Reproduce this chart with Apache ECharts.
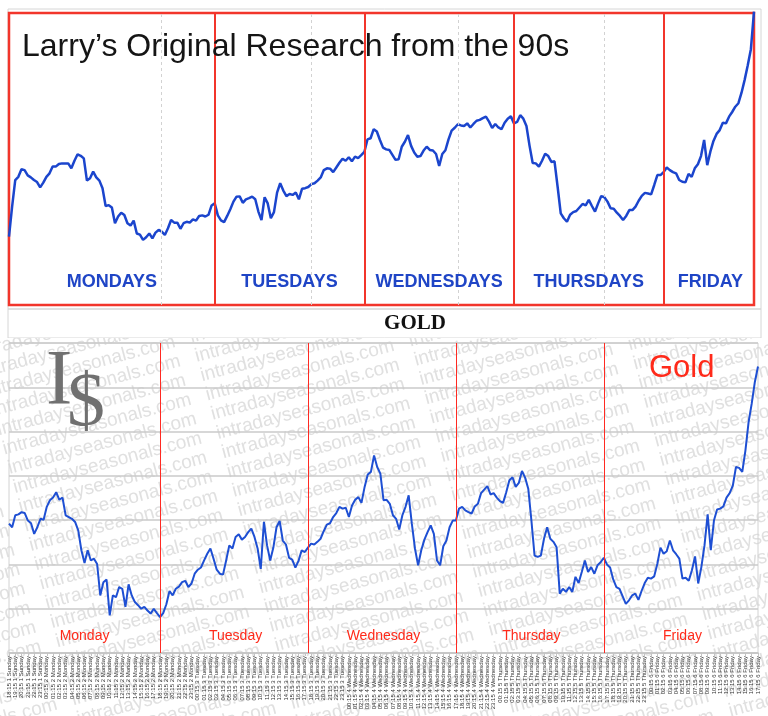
<!DOCTYPE html>
<html><head><meta charset="utf-8">
<script src="https://cdn.jsdelivr.net/npm/echarts@6/dist/echarts.min.js"></script>
<style>
html,body{margin:0;padding:0;background:#fff;width:768px;height:716px;overflow:hidden;}
#top{position:absolute;left:0;top:0;width:768px;height:338px;}
#bottom{position:absolute;left:0;top:338px;width:768px;height:378px;}
</style></head><body>
<div id="top"></div><div id="bottom"></div>
<script>
// ---------------- data ----------------
const topTitle = 'Larry’s Original Research from the 90s';
const topSubtitle = 'GOLD';
const topDayNames = ['MONDAYS', 'TUESDAYS', 'WEDNESDAYS', 'THURSDAYS', 'FRIDAY'];
const topDayBounds = [0, 66, 114, 162, 210, 239];
const topGuideLines = [49, 97, 144, 191];
const topValues = [
23.4,33.7,42.8,43.9,46.5,46.2,44.4,43.7,42.8,42.1,40.3,41.9,43.9,45.1,47.4,47.4,48.3,48.5,48.5,48.5,
46.8,49.4,51.6,51.1,50.2,42.6,43.4,45.7,43.7,42.6,40.0,33.9,34.2,33.4,28.0,30.3,31.6,30.8,28.0,27.2,
28.9,24.5,24.1,22.3,23.2,24.5,22.8,24.8,25.7,25.1,24.0,26.3,29.1,28.2,28.2,26.1,28.0,28.5,28.2,29.3,
28.9,30.5,30.7,30.3,30.9,34.1,34.8,30.7,29.0,28.4,30.5,32.8,35.4,37.1,37.2,35.0,36.2,36.6,37.1,36.2,
32.0,29.1,36.9,34.8,29.7,31.8,38.5,41.7,39.2,37.3,38.0,37.7,38.5,36.2,39.8,40.0,40.4,41.4,41.7,42.6,
43.7,46.2,46.8,46.7,45.5,47.1,48.7,50.1,49.4,50.6,49.2,50.8,50.3,51.3,52.4,56.7,57.1,60.2,59.4,56.5,
53.9,53.3,53.1,51.4,49.7,49.9,54.2,55.9,58.2,54.5,52.2,50.8,51.0,52.9,54.2,53.1,52.9,51.7,47.6,51.7,
53.0,56.7,59.7,60.7,61.9,61.5,61.3,62.2,60.8,62.0,63.1,63.4,64.0,64.5,62.8,60.6,62.0,60.8,60.2,62.4,
63.8,64.6,62.2,62.7,65.0,63.8,61.3,54.5,48.6,48.5,47.4,49.4,51.8,51.0,49.0,49.2,40.5,31.4,29.7,28.5,
30.9,31.8,32.2,33.4,34.6,34.1,36.0,33.9,32.0,34.8,37.3,36.9,35.4,33.1,33.0,31.6,30.5,29.1,30.5,32.5,
32.5,33.7,35.7,37.4,38.4,38.2,37.9,41.1,44.5,44.5,45.5,47.1,46.2,45.5,45.1,42.8,42.2,42.0,44.9,43.9,
46.8,48.2,51.0,56.5,47.9,52.5,56.2,58.6,59.9,62.4,62.2,64.5,66.1,67.9,69.1,72.7,77.1,82.1,87.6,100.5
];

const bottomTitle = 'Gold';
const watermarkText = 'intradayseasonals.com';
const bottomDayNames = ['Monday', 'Tuesday', 'Wednesday', 'Thursday', 'Friday'];
const bottomDayBounds = [0, 48, 95, 142, 189, 238];
const sessionDays = ['1 Sunday', '2 Monday', '3 Tuesday', '4 Wednesday', '5 Thursday', '6 Friday'];
const bottomValues = [
29.2,28.4,31.1,31.3,31.8,31.6,29.9,29.3,26.9,28.4,30.3,30.1,33.0,34.5,35.1,36.3,34.6,35.1,31.1,30.7,
30.3,29.6,27.7,23.2,20.3,23.2,20.9,21.3,20.1,13.0,16.0,16.6,8.5,13.0,12.6,14.9,14.5,10.4,15.5,13.0,
11.5,10.8,10.0,10.4,9.6,8.9,10.0,9.0,8.1,9.0,11.0,14.0,13.0,14.5,15.0,16.0,16.3,14.9,15.7,17.9,
18.8,19.3,20.9,22.4,23.6,21.3,18.8,17.9,17.7,20.9,24.3,23.6,26.2,26.8,25.6,26.2,27.3,28.1,26.2,23.6,
19.0,29.6,24.3,20.9,23.8,28.4,29.8,25.4,24.5,21.5,21.1,19.3,20.8,23.2,22.8,23.8,24.7,24.5,25.1,25.8,
27.5,29.0,29.3,30.7,31.6,33.0,32.6,32.8,30.7,33.3,34.6,35.2,33.9,37.5,40.3,40.9,44.6,42.0,40.5,34.5,
34.6,33.7,31.1,30.3,27.9,31.1,33.0,35.6,29.2,23.6,19.8,23.2,25.6,27.3,28.8,26.9,20.9,19.8,24.1,25.4,
28.4,29.9,29.9,32.6,33.0,32.2,31.8,31.5,33.1,33.7,36.1,36.9,37.7,35.8,36.1,35.1,34.3,33.9,36.3,39.0,
39.7,37.5,38.4,41.1,39.6,37.1,29.9,22.0,21.7,22.0,25.8,28.4,25.8,25.1,23.9,13.4,14.5,13.8,14.9,13.8,
17.2,15.8,18.3,20.9,18.3,19.4,17.9,19.8,20.5,21.5,20.0,19.3,16.6,14.9,14.5,12.8,11.1,11.9,13.0,13.4,
12.0,14.0,15.8,17.0,16.8,17.3,20.1,23.8,22.4,23.0,25.4,23.2,22.3,21.3,16.8,17.0,16.3,18.7,21.8,15.7,
19.4,24.3,31.3,23.2,29.9,32.4,32.6,33.1,35.1,36.1,37.8,42.0,41.8,40.9,45.7,52.1,56.3,61.2,64.7
];

// ---------------- categories ----------------
const topCategories = topValues.map((v, i) => 'p' + i);
const bottomCategories = [];
for (let k = 0; k < bottomValues.length; k++) {
  const mins = 18 * 60 + 15 + k * 30;
  const day = Math.floor(mins / 1440);
  const m = mins % 1440;
  const hh = String(Math.floor(m / 60)).padStart(2, '0');
  const mm = String(m % 60).padStart(2, '0');
  bottomCategories.push(hh + ':' + mm + ' ' + sessionDays[day]);
}

const SANS = '"Liberation Sans", Arial, Helvetica, sans-serif';
const SERIF = '"Liberation Serif", "Times New Roman", serif';

// ---------------- top chart ----------------
const topChart = echarts.init(document.getElementById('top'), null, {renderer: 'canvas'});
const topMarkData = [];
topDayBounds.slice(1, -1).forEach(b => topMarkData.push({
  xAxis: topCategories[b], lineStyle: {color: '#f2352b', width: 2, type: 'solid'}
}));
topGuideLines.forEach(b => topMarkData.push({
  xAxis: topCategories[b], lineStyle: {color: '#d2d2d2', width: 1, type: [3, 3]}
}));
const topLabelData = topDayNames.map((n, i) => [(topDayBounds[i] + topDayBounds[i + 1]) / 2, 7.8]);

topChart.setOption({
  animation: false,
  backgroundColor: '#ffffff',
  title: [
    {text: topTitle, left: 22, top: 31, padding: 0,
     textStyle: {fontFamily: SANS, fontSize: 32, fontWeight: 'normal', color: '#151515'}},
    {text: topSubtitle, left: 415, top: 313, padding: 0, textAlign: 'center',
     textStyle: {fontFamily: SERIF, fontSize: 21, fontWeight: 'bold', color: '#111111'}}
  ],
  graphic: [
    {type: 'rect', silent: true, z: -1, shape: {x: 8, y: 9, width: 753, height: 329},
     style: {fill: 'none', stroke: '#d6d6d6', lineWidth: 1}},
    {type: 'line', silent: true, z: -1, shape: {x1: 8, y1: 309, x2: 761, y2: 309},
     style: {stroke: '#d6d6d6', lineWidth: 1.5}}
  ],
  grid: {left: 9, right: 14, top: 13, bottom: 33, show: true,
         borderColor: '#f2352b', borderWidth: 2.5, backgroundColor: 'transparent'},
  xAxis: {type: 'category', data: topCategories, boundaryGap: false,
          axisLine: {show: false}, axisTick: {show: false}, axisLabel: {show: false}, splitLine: {show: false}},
  yAxis: {type: 'value', min: 0, max: 100, show: false, splitLine: {show: false}},
  series: [
    {type: 'line', data: topValues, showSymbol: false, clip: false, z: 4,
     lineStyle: {color: '#1b45cd', width: 2.5},
     markLine: {symbol: 'none', silent: true, label: {show: false}, data: topMarkData}},
    {type: 'scatter', data: topLabelData, symbolSize: 0, silent: true, z: 5,
     itemStyle: {opacity: 1},
     label: {show: true, position: 'inside', formatter: p => topDayNames[p.dataIndex], opacity: 1,
             fontFamily: SANS, fontSize: 18, fontWeight: 'bold', color: '#1f45c6'}}
  ]
});

// ---------------- bottom chart ----------------
const bottomChart = echarts.init(document.getElementById('bottom'), null, {renderer: 'canvas'});
const wmGraphics = [];
const wmLine = (watermarkText + '   ').repeat(7);
const ang = 0.26, ca = Math.cos(ang), sa = Math.sin(ang);
for (let k = 0; k < 31; k++) {
  const t = -240 + k * 5.5;
  wmGraphics.push({type: 'text', silent: true, z: -5,
    x: t * ca, y: k * 20.7 - 12 - t * sa, rotation: ang,
    style: {text: wmLine, fill: '#e0e0e0', fontSize: 19, fontFamily: SANS, verticalAlign: 'middle'}});
}
wmGraphics.push({type: 'text', silent: true, z: 10, x: 46, y: 5,
  style: {text: 'I', fill: '#707070', fontSize: 79, fontFamily: SERIF, verticalAlign: 'top'}});
wmGraphics.push({type: 'text', silent: true, z: 10, x: 67, y: 29,
  style: {text: '$', fill: '#707070', fontSize: 76, fontFamily: SERIF, verticalAlign: 'top'}});

const bottomMarkData = bottomDayBounds.slice(1, -1).map(b => ({
  xAxis: bottomCategories[b], lineStyle: {color: '#ff2a22', width: 1, type: 'solid'}
}));
const bottomLabelData = bottomDayNames.map((n, i) => [(bottomDayBounds[i] + bottomDayBounds[i + 1]) / 2, 3.8]);

bottomChart.setOption({
  animation: false,
  backgroundColor: '#ffffff',
  title: [
    {text: bottomTitle, left: 649, top: 15, padding: 0,
     textStyle: {fontFamily: SANS, fontSize: 31, fontWeight: 'normal', color: '#ff2a1a'}}
  ],
  graphic: wmGraphics,
  grid: {left: 9, right: 10, top: 5, bottom: 63, show: true,
         borderColor: '#d2d2d2', borderWidth: 1, backgroundColor: 'transparent'},
  xAxis: {type: 'category', data: bottomCategories, boundaryGap: false, z: 2,
          axisLine: {show: true, lineStyle: {color: '#c4c4c4', width: 1.5}},
          axisTick: {show: true, interval: 1, length: 3, lineStyle: {color: '#c4c4c4'}},
          axisLabel: {interval: 1, rotate: 90, fontSize: 6, color: '#333333', margin: 3, fontFamily: SANS},
          splitLine: {show: false}},
  yAxis: {type: 'value', min: 0, max: 70, interval: 10, z: 2,
          axisLabel: {show: false}, axisLine: {show: false}, axisTick: {show: false},
          splitLine: {show: true, lineStyle: {color: '#cacaca', width: 1.5}}},
  series: [
    {type: 'line', data: bottomValues, showSymbol: false, z: 4,
     lineStyle: {color: '#1e4fd3', width: 2},
     markLine: {symbol: 'none', silent: true, label: {show: false}, data: bottomMarkData}},
    {type: 'scatter', data: bottomLabelData, symbolSize: 0, silent: true, z: 5,
     itemStyle: {opacity: 1},
     label: {show: true, position: 'inside', formatter: p => bottomDayNames[p.dataIndex], opacity: 1,
             fontFamily: '"Liberation Sans Narrow", "Arial Narrow", ' + SANS, fontSize: 14, color: '#ff2a1a'}}
  ]
});
</script>
</body></html>
